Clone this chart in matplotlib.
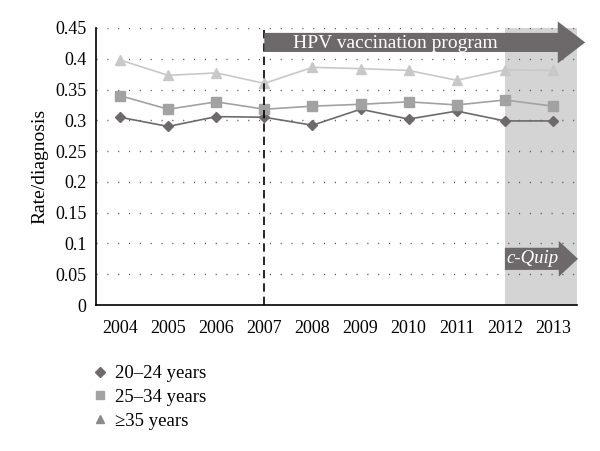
# Rate per diagnosis by age group, 2004-2013, with HPV vaccination and c-Quip periods

import numpy as np
import matplotlib.pyplot as plt
from matplotlib.patches import FancyArrow

plt.rcParams['font.family'] = ['Liberation Serif', 'DejaVu Serif']

years = [2004, 2005, 2006, 2007, 2008, 2009, 2010, 2011, 2012, 2013]
age_20_24 = [0.305, 0.290, 0.306, 0.305, 0.292, 0.318, 0.302, 0.315, 0.299, 0.299]
age_25_34 = [0.340, 0.318, 0.330, 0.318, 0.323, 0.326, 0.330, 0.325, 0.333, 0.323]
age_35_up = [0.398, 0.373, 0.377, 0.360, 0.386, 0.384, 0.381, 0.365, 0.382, 0.381]
labels = ['20\u201324 years', '25\u201334 years', '\u226535 years']

fig = plt.figure(figsize=(6, 4.51), dpi=100)
ax = fig.add_axes([0.16, 0.3237, 0.8017, 0.6143])

# c-Quip period shading
ax.axvspan(2012, 2013.5, color='#d5d4d5', lw=0, zorder=0)

# dotted horizontal grid
for yv in np.arange(0.05, 0.451, 0.05):
    ax.axhline(yv, color='#555555', lw=1, linestyle=(0, (0.8, 7)), zorder=1)

l1, = ax.plot(years, age_20_24, color='#6e6a6b', marker='D', ms=5.5, lw=1.2, zorder=4)
l2, = ax.plot(years, age_25_34, color='#a3a2a3', marker='s', ms=7, lw=1.2, zorder=4)
l3, = ax.plot(years, age_35_up, color='#c9c8c9', marker='^', ms=7, lw=1.2, zorder=3)

# start of vaccination program
ax.axvline(2007, color='black', lw=1.2, linestyle=(0, (5, 3)), zorder=5)

hpv = FancyArrow(2007, 0.4265, 6.67, 0, width=0.031, head_width=0.068,
                 head_length=0.57, length_includes_head=True,
                 color='#6d696a', lw=0, clip_on=False, zorder=6)
ax.add_patch(hpv)
ax.text(2007.6, 0.4255, 'HPV vaccination program', color='white', fontsize=14,
        ha='left', va='center', zorder=7)

cquip = FancyArrow(2012, 0.075, 1.52, 0, width=0.036, head_width=0.058,
                   head_length=0.4, length_includes_head=True,
                   color='#6d696a', lw=0, clip_on=False, zorder=6)
ax.add_patch(cquip)
ax.text(2012.04, 0.075, 'c-Quip', color='white', fontsize=13.5, style='italic',
        ha='left', va='center', zorder=7)

ax.set_xlim(2003.5, 2013.5)
ax.set_ylim(0, 0.45)
ax.set_xticks(years)
ax.set_yticks(np.arange(0, 0.451, 0.05))
ax.set_yticklabels(['0', '0.05', '0.1', '0.15', '0.2', '0.25', '0.3', '0.35', '0.4', '0.45'])
ax.tick_params(axis='y', length=0, labelsize=13, pad=7)
ax.tick_params(axis='x', length=0, labelsize=13, pad=11)
ax.spines['top'].set_visible(False)
ax.spines['right'].set_visible(False)
ax.spines['left'].set_linewidth(1.2)
ax.spines['bottom'].set_linewidth(1.2)
ax.set_ylabel('Rate/diagnosis', fontsize=14, labelpad=5)

leg = fig.legend([l1, l2, l3], labels, loc='upper left', bbox_to_anchor=(0.125, 0.228),
                 frameon=False, fontsize=13.5, handlelength=0.9, handletextpad=0.35,
                 labelspacing=0.35)
for h, c in zip(leg.legend_handles, ['#6e6a6b', '#a3a2a3', '#8c8b8c']):
    h.set_linestyle('none')
    h.set_color(c)
    h.set_markersize(5.5)

fig.savefig('out.png', dpi=100)
